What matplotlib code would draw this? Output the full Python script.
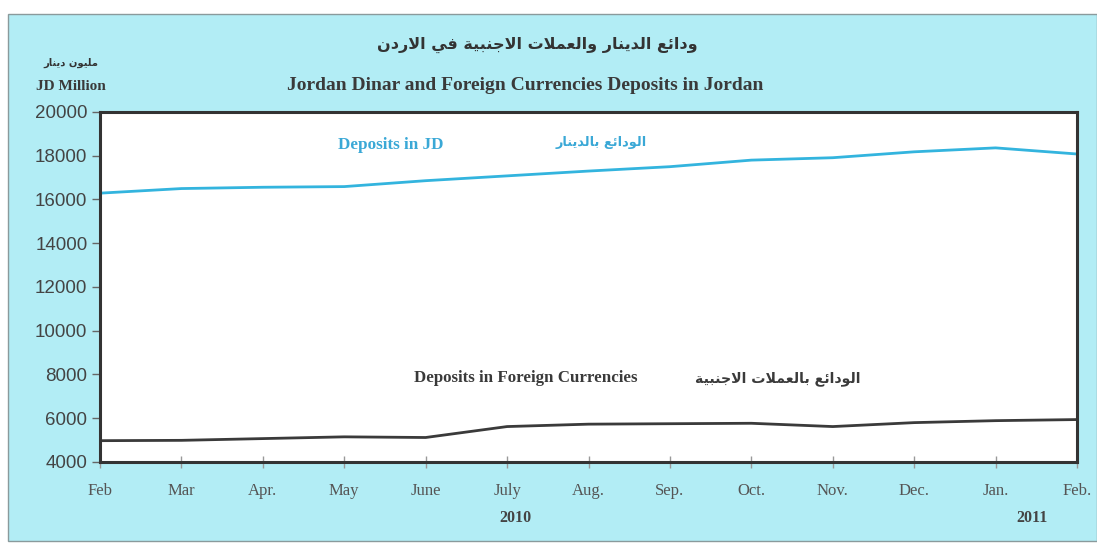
import matplotlib
matplotlib.use('Agg')
import matplotlib.pyplot as plt
import matplotlib.transforms as mtransforms
from matplotlib.patches import Rectangle

months = ['Feb', 'Mar', 'Apr.', 'May', 'June', 'July', 'Aug.', 'Sep.',
          'Oct.', 'Nov.', 'Dec.', 'Jan.', 'Feb.']
deposits_jd = [16290, 16500, 16560, 16590, 16860, 17080, 17300, 17500,
               17800, 17910, 18180, 18360, 18080]
deposits_fc = [4975, 4990, 5070, 5150, 5120, 5620, 5730, 5750,
               5770, 5620, 5800, 5890, 5940]
years = {'2010': 5.1, '2011': 11.45}

title_ar = 'ودائع الدينار والعملات الاجنبية في الاردن'
title_en = 'Jordan Dinar and Foreign Currencies Deposits in Jordan'
unit_ar = 'مليون دينار'
unit_en = 'JD Million'
jd_en, jd_ar = 'Deposits in JD', 'الودائع بالدينار'
fc_en, fc_ar = 'Deposits in Foreign Currencies', 'الودائع بالعملات الاجنبية'

# matplotlib has no arabic shaping, so do a tiny one by hand
# letter: (isolated, final, initial, medial); None = does not join forward
FORMS = {
    'ا': (0xFE8D, 0xFE8E, None, None),
    'ب': (0xFE8F, 0xFE90, 0xFE91, 0xFE92),
    'ة': (0xFE93, 0xFE94, None, None),
    'ت': (0xFE95, 0xFE96, 0xFE97, 0xFE98),
    'ج': (0xFE9D, 0xFE9E, 0xFE9F, 0xFEA0),
    'د': (0xFEA9, 0xFEAA, None, None),
    'ر': (0xFEAD, 0xFEAE, None, None),
    'ع': (0xFEC9, 0xFECA, 0xFECB, 0xFECC),
    'ف': (0xFED1, 0xFED2, 0xFED3, 0xFED4),
    'ل': (0xFEDD, 0xFEDE, 0xFEDF, 0xFEE0),
    'م': (0xFEE1, 0xFEE2, 0xFEE3, 0xFEE4),
    'ن': (0xFEE5, 0xFEE6, 0xFEE7, 0xFEE8),
    'و': (0xFEED, 0xFEEE, None, None),
    'ي': (0xFEF1, 0xFEF2, 0xFEF3, 0xFEF4),
    'ئ': (0xFE89, 0xFE8A, 0xFE8B, 0xFE8C),
}


def shape(text):
    out = []
    i = 0
    prev_joins = False
    while i < len(text):
        c = text[i]
        if c not in FORMS:
            out.append(c)
            prev_joins = False
            i += 1
            continue
        if c == 'ل' and i + 1 < len(text) and text[i + 1] == 'ا':
            out.append(chr(0xFEFC if prev_joins else 0xFEFB))
            prev_joins = False
            i += 2
            continue
        f = FORMS[c]
        nxt = text[i + 1] if i + 1 < len(text) else ''
        joins_next = f[2] is not None and nxt in FORMS
        if prev_joins and joins_next:
            code = f[3]
        elif prev_joins:
            code = f[1]
        elif joins_next:
            code = f[2]
        else:
            code = f[0]
        out.append(chr(code))
        prev_joins = joins_next
        i += 1
    return ''.join(out)[::-1]


AR = ['DejaVu Sans']
SERIF = ['Liberation Serif', 'DejaVu Serif']
SANS = ['Liberation Sans', 'DejaVu Sans']
BG = '#b2edf5'
JD_COL = '#33b4de'
DARK = '#3a3a3a'

fig = plt.figure(figsize=(10.97, 5.44), dpi=100, facecolor='white')
fig.patches.append(Rectangle((8 / 1097, 3 / 544), 1089 / 1097, 527 / 544,
                             transform=fig.transFigure, facecolor=BG,
                             edgecolor='#8a9a9c', linewidth=1.0, zorder=-5))

ax = fig.add_axes([100 / 1097, 82 / 544, 977 / 1097, 350 / 544])
ax.set_facecolor('white')
x = list(range(len(months)))
ax.plot(x, deposits_jd, color=JD_COL, linewidth=2.0, solid_capstyle='butt')
ax.plot(x, deposits_fc, color=DARK, linewidth=2.0, solid_capstyle='butt')

ax.set_xlim(0, len(months) - 1)
ax.set_ylim(4000, 20000)
ax.set_yticks(range(4000, 20001, 2000))
ax.set_xticks(x)
ax.set_xticklabels(months, family=SERIF, fontsize=12, color='#555555')
for lab in ax.get_yticklabels():
    lab.set_family(SANS)
ax.tick_params(axis='y', direction='out', length=6, width=1, color='#666666',
               labelsize=13.5, labelcolor='#444444', pad=3)
ax.tick_params(axis='x', direction='inout', length=8, width=1, color='#999999',
               pad=11)
for s in ax.spines.values():
    s.set_color('#333333')
    s.set_linewidth(2.2)

trans = mtransforms.blended_transform_factory(ax.transData, ax.transAxes)
for yr, xp in years.items():
    ax.text(xp, -0.16, yr, transform=trans, ha='center', va='center',
            family=SERIF, fontsize=11.5, fontweight='bold', color='#444444')

# labels on the lines
ax.text(3.57, 18500, jd_en, ha='center', va='center', family=SERIF,
        fontsize=12.3, fontweight='bold', color='#3aa8d6')
ax.text(6.15, 18600, shape(jd_ar), ha='center', va='center', family=AR,
        fontsize=9.3, fontweight='bold', color='#3aa8d6')
ax.text(5.23, 7830, fc_en, ha='center', va='center', family=SERIF,
        fontsize=12.2, fontweight='bold', color=DARK)
ax.text(8.33, 7830, shape(fc_ar), ha='center', va='center', family=AR,
        fontsize=10.2, fontweight='bold', color=DARK)

# titles
fig.text(537 / 1097, 1 - 45 / 544, shape(title_ar), ha='center', va='center',
         family=AR, fontsize=11.5, fontweight='bold', color='#333333')
fig.text(525 / 1097, 1 - 86 / 544, title_en, ha='center', va='center',
         family=SERIF, fontsize=14, fontweight='bold', color='#3a3a3a')
fig.text(71 / 1097, 1 - 63 / 544, shape(unit_ar), ha='center', va='center',
         family=AR, fontsize=7.2, fontweight='bold', color='#333333')
fig.text(71 / 1097, 1 - 87 / 544, unit_en, ha='center', va='center',
         family=SERIF, fontsize=11, fontweight='bold', color='#3a3a3a')

fig.savefig('out.png', dpi=100, facecolor=fig.get_facecolor())
